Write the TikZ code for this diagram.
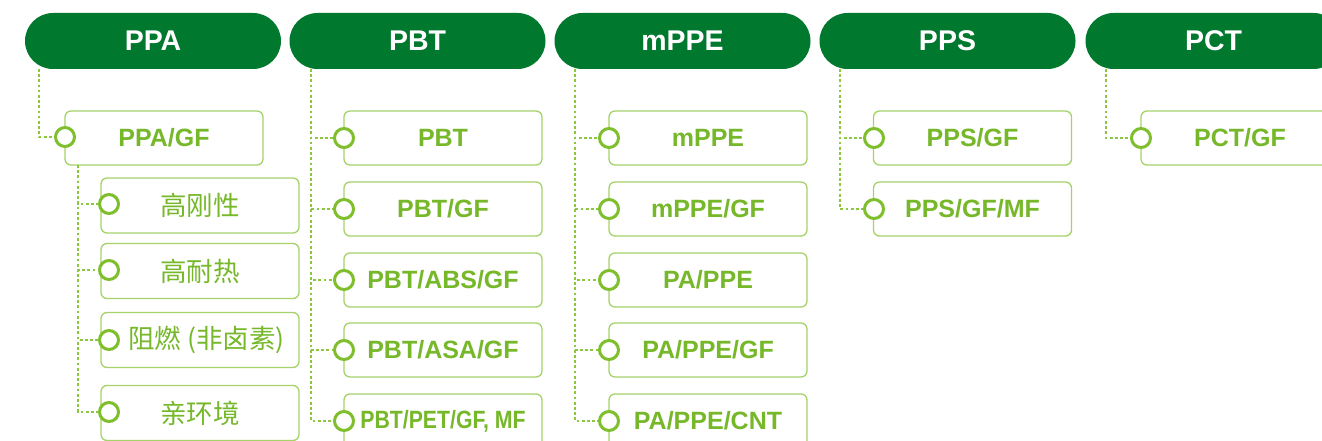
\documentclass[tikz,border=0pt]{standalone}
\usepackage{fontspec}
\setmainfont{Liberation Sans}
\newfontfamily\cjk{Noto Sans CJK SC}
\definecolor{dkgreen}{RGB}{0,120,45}
\definecolor{txtgreen}{RGB}{118,184,42}
\definecolor{ringgreen}{RGB}{127,191,46}
\definecolor{bordergreen}{RGB}{165,210,105}
\definecolor{dotgreen}{RGB}{141,198,63}
\tikzset{
  hdr/.style={fill=dkgreen, rounded corners=28pt, minimum width=256pt, minimum height=56pt, inner sep=0pt,
    text=white, font=\fontsize{28.5}{32}\selectfont\bfseries},
  item/.style={draw=bordergreen, line width=1.3pt, rounded corners=6pt, fill=white, minimum width=198pt,
    minimum height=54pt, inner sep=0pt, text=txtgreen, font=\fontsize{25}{28}\selectfont\bfseries},
  subitem/.style={item, minimum height=55pt, font=\cjk\fontsize{26.5}{30}\selectfont},
  ring/.style={circle, draw=ringgreen, line width=3pt, fill=white, minimum size=19pt, inner sep=0pt},
  dots/.style={draw=dotgreen, line width=2.7pt, dash pattern=on 2.7pt off 2.5pt}
}
\begin{document}
\begin{tikzpicture}[x=1pt,y=-1pt]
\useasboundingbox (0,0) rectangle (1322,441);
% headers
\node[hdr] (hPPA) at (153,41) {PPA};
\node[hdr] (hPBT) at (417.5,41) {PBT};
\node[hdr] (hmPPE) at (682.5,41) {mPPE};
\node[hdr] (hPPS) at (947.5,41) {PPS};
\node[hdr] (hPCT) at (1213.5,41) {PCT};
\coordinate (tPPA) at (39,69);
\coordinate (tPBT) at (311,69);
\coordinate (tmPPE) at (575,69);
\coordinate (tPPS) at (840,69);
\coordinate (tPCT) at (1106,69);
% PPA column
\node[item] (bPPAGF) at (164,138) {PPA/GF};
\coordinate (tSub) at (78,165);
\node[subitem] (bs1) at (200,205.5) {高刚性};
\node[subitem] (bs2) at (200,271) {高耐热};
\node[subitem] (bs3) at (200,340) {\hspace*{13pt}阻燃 (非卤素)};
\node[subitem] (bs4) at (200,413) {亲环境};
% PBT column
\node[item] (bPBT1) at (443,138) {PBT};
\node[item] (bPBT2) at (443,209) {PBT/GF};
\node[item] (bPBT3) at (443,280) {PBT/ABS/GF};
\node[item] (bPBT4) at (443,350) {PBT/ASA/GF};
\node[item] (bPBT5) at (443,421) {\scalebox{0.85}[1]{PBT/PET/GF, MF}};
% mPPE column
\node[item] (bmPPE1) at (708,138) {mPPE};
\node[item] (bmPPE2) at (708,209) {mPPE/GF};
\node[item] (bmPPE3) at (708,280) {PA/PPE};
\node[item] (bmPPE4) at (708,350) {PA/PPE/GF};
\node[item] (bmPPE5) at (708,421) {PA/PPE/CNT};
% PPS column
\node[item] (bPPS1) at (972.5,138) {PPS/GF};
\node[item] (bPPS2) at (972.5,209) {PPS/GF/MF};
% PCT column
\node[item] (bPCT1) at (1240,138) {PCT/GF};
% rings
\node[ring] (rPPAGF) at (65,137) {};
\node[ring] (rs1) at (109,204) {};
\node[ring] (rs2) at (109,270) {};
\node[ring] (rs3) at (109,340) {};
\node[ring] (rs4) at (109,412) {};
\node[ring] (rPBT1) at (344,138) {};
\node[ring] (rPBT2) at (344,209) {};
\node[ring] (rPBT3) at (344,280) {};
\node[ring] (rPBT4) at (344,350) {};
\node[ring] (rPBT5) at (344,421) {};
\node[ring] (rmPPE1) at (609,138) {};
\node[ring] (rmPPE2) at (609,209) {};
\node[ring] (rmPPE3) at (609,280) {};
\node[ring] (rmPPE4) at (609,350) {};
\node[ring] (rmPPE5) at (609,421) {};
\node[ring] (rPPS1) at (874,138) {};
\node[ring] (rPPS2) at (874,209) {};
\node[ring] (rPCT1) at (1141,138) {};
% connectors
\draw[dots] (tPPA) |- (rPPAGF.west);
\foreach \r in {rs1,rs2,rs3,rs4} \draw[dots] (tSub) |- (\r.west);
\foreach \r in {rPBT1,rPBT2,rPBT3,rPBT4,rPBT5} \draw[dots] (tPBT) |- (\r.west);
\foreach \r in {rmPPE1,rmPPE2,rmPPE3,rmPPE4,rmPPE5} \draw[dots] (tmPPE) |- (\r.west);
\foreach \r in {rPPS1,rPPS2} \draw[dots] (tPPS) |- (\r.west);
\draw[dots] (tPCT) |- (rPCT1.west);
\end{tikzpicture}
\end{document}
